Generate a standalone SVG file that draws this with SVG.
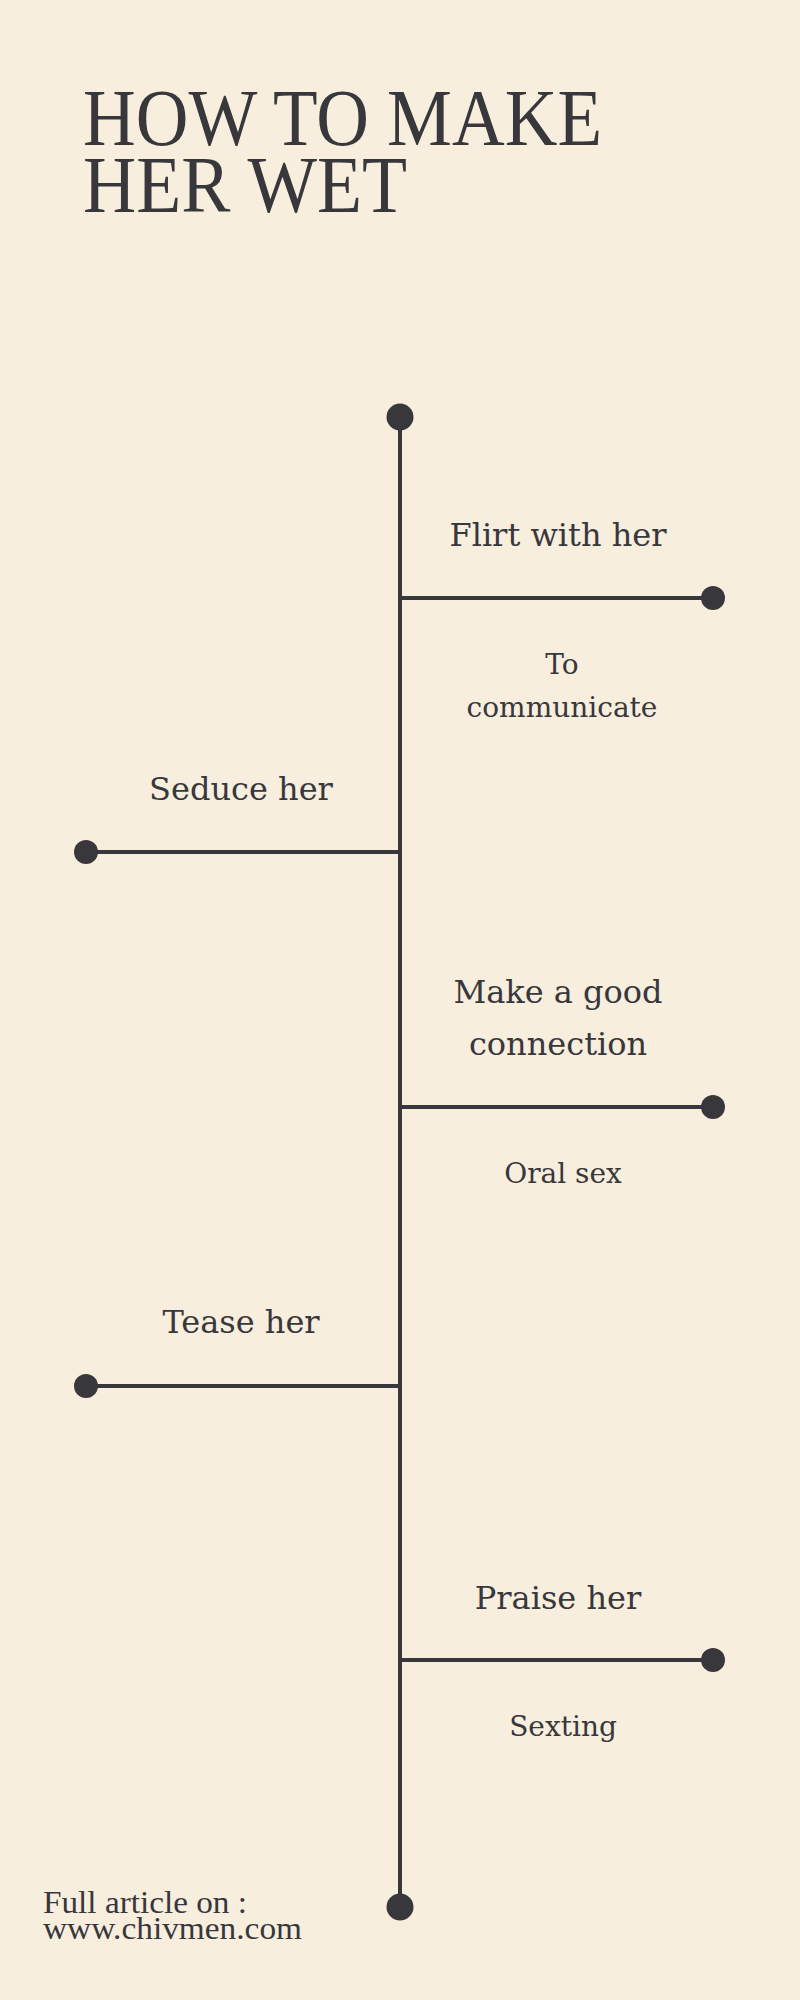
<svg xmlns="http://www.w3.org/2000/svg" width="800" height="2000" viewBox="0 0 800 2000">
<style>
.bg{fill:#f7eedd}
.ln{stroke:#38373c;stroke-width:4;fill:none}
.dot{fill:#38373c}
.title{font-family:"Liberation Serif",serif;font-size:80px;fill:#38373c}
.lbl{font-family:"DejaVu Serif","Liberation Serif",serif;font-size:32px;fill:#38373c;text-anchor:middle}
.sub{font-family:"DejaVu Serif","Liberation Serif",serif;font-size:28px;fill:#38373c;text-anchor:middle}
.foot{font-family:"Liberation Serif",serif;font-size:32px;fill:#38373c}
</style>
<rect class="bg" x="0" y="0" width="800" height="2000"/>
<g id="title">
<text class="title" x="83" y="145" textLength="519" lengthAdjust="spacingAndGlyphs">HOW TO MAKE</text>
<text class="title" x="83" y="212" textLength="324" lengthAdjust="spacingAndGlyphs">HER WET</text>
</g>
<g id="connectors">
<line class="ln" x1="400" y1="417" x2="400" y2="1907"/>
<line class="ln" x1="400" y1="598" x2="713" y2="598"/>
<line class="ln" x1="400" y1="852" x2="86" y2="852"/>
<line class="ln" x1="400" y1="1107" x2="713" y2="1107"/>
<line class="ln" x1="400" y1="1386" x2="86" y2="1386"/>
<line class="ln" x1="400" y1="1660" x2="713" y2="1660"/>
</g>
<g id="start"><circle class="dot" cx="400" cy="417" r="13.5"/></g>
<g id="end"><circle class="dot" cx="400" cy="1907" r="13.5"/></g>
<g id="node-flirt">
<circle class="dot" cx="713" cy="598" r="12"/>
<text class="lbl" x="558" y="546">Flirt with her</text>
<text class="sub" x="562" y="674">To</text>
<text class="sub" x="562" y="717">communicate</text>
</g>
<g id="node-seduce">
<circle class="dot" cx="86" cy="852" r="12"/>
<text class="lbl" x="241" y="800">Seduce her</text>
</g>
<g id="node-connection">
<circle class="dot" cx="713" cy="1107" r="12"/>
<text class="lbl" x="558" y="1003">Make a good</text>
<text class="lbl" x="558" y="1055">connection</text>
<text class="sub" x="563" y="1183">Oral sex</text>
</g>
<g id="node-tease">
<circle class="dot" cx="86" cy="1386" r="12"/>
<text class="lbl" x="241" y="1333">Tease her</text>
</g>
<g id="node-praise">
<circle class="dot" cx="713" cy="1660" r="12"/>
<text class="lbl" x="558" y="1609">Praise her</text>
<text class="sub" x="563" y="1736">Sexting</text>
</g>
<g id="footer">
<text class="foot" x="43" y="1913" textLength="204" lengthAdjust="spacingAndGlyphs">Full article on :</text>
<text class="foot" x="43" y="1939" textLength="259" lengthAdjust="spacingAndGlyphs">www.chivmen.com</text>
</g>
</svg>
